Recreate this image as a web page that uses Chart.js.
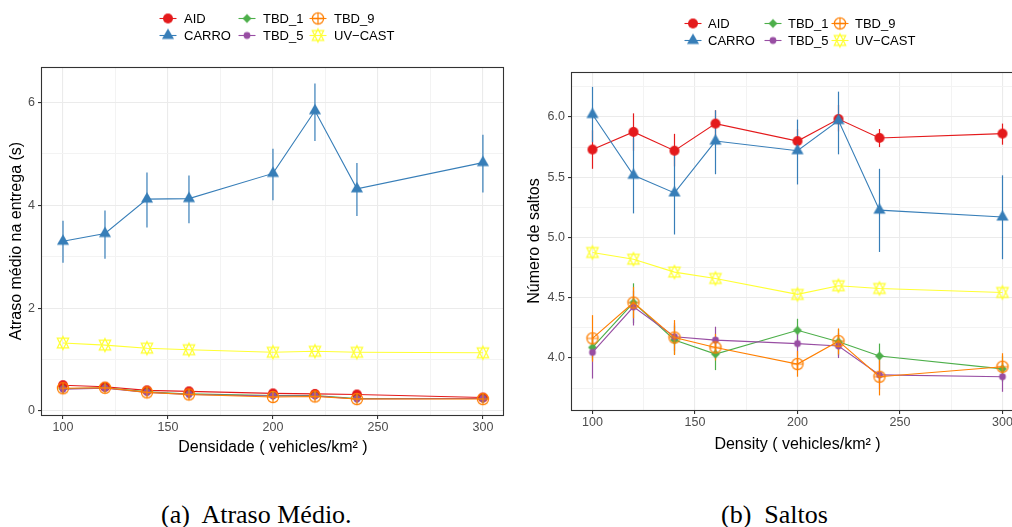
<!DOCTYPE html>
<html><head><meta charset="utf-8">
<script src="https://cdn.jsdelivr.net/npm/chart.js@4/dist/chart.umd.min.js"></script>
<style>
html,body{margin:0;padding:0;background:#fff;overflow:hidden;}
#wrap{position:relative;width:1012px;height:527px;overflow:hidden;background:#fff;}
canvas{position:absolute;top:0;}
.cap{position:absolute;font-family:'Liberation Serif','Times New Roman',serif;font-size:26px;line-height:26px;color:#000;white-space:pre;}
</style></head><body>
<div id="wrap">
<canvas id="c1" width="510" height="460" style="left:0px"></canvas>
<canvas id="c2" width="520" height="460" style="left:510px"></canvas>
<div class="cap" style="left:161px;top:502px">(a)  Atraso Médio.</div>
<div class="cap" style="left:721px;top:502px">(b)  Saltos</div>
</div>
<script>
// ---------------- DATA ----------------
const density = [100, 120, 140, 160, 200, 220, 240, 300];
const seriesNames = ['AID', 'CARRO', 'TBD_1', 'TBD_5', 'TBD_9', 'UV\u2212CAST'];

// (a) Atraso médio na entrega (s)
const delayAID   = [0.50, 0.47, 0.40, 0.38, 0.34, 0.33, 0.32, 0.26];
const delayCARRO = [3.30, 3.45, 4.12, 4.13, 4.62, 5.84, 4.32, 4.83];
const delayCARROLo = [2.88, 2.96, 3.57, 3.65, 4.10, 5.25, 3.79, 4.25];
const delayCARROHi = [3.70, 3.90, 4.64, 4.58, 5.10, 6.37, 4.82, 5.37];
const delayTBD1  = [0.43, 0.45, 0.37, 0.33, 0.30, 0.30, 0.24, 0.24];
const delayTBD5  = [0.42, 0.44, 0.36, 0.32, 0.29, 0.29, 0.23, 0.24];
const delayTBD9  = [0.44, 0.45, 0.36, 0.32, 0.27, 0.28, 0.23, 0.23];
const delayUV    = [1.32, 1.28, 1.22, 1.19, 1.14, 1.16, 1.14, 1.13];

// (b) Número de saltos
const hopsAID    = [5.73, 5.876, 5.72, 5.945, 5.80, 5.983, 5.826, 5.862];
const hopsAIDLo  = [5.57, 5.72, 5.59, 5.83, 5.70, 5.88, 5.75, 5.77];
const hopsAIDHi  = [5.89, 6.03, 5.86, 6.055, 5.90, 6.10, 5.90, 5.945];
const hopsCARRO  = [6.02, 5.516, 5.37, 5.80, 5.72, 5.97, 5.227, 5.17];
const hopsCARROLo = [5.79, 5.20, 5.025, 5.525, 5.44, 5.69, 4.88, 4.82];
const hopsCARROHi = [6.25, 5.83, 5.69, 6.055, 5.978, 6.21, 5.57, 5.516];
const hopsTBD1   = [4.088, 4.46, 4.15, 4.033, 4.23, 4.135, 4.017, 3.91];
const hopsTBD1Lo = [3.98, 4.29, 4.03, 3.90, 4.135, 4.02, 3.90, 3.80];
const hopsTBD1Hi = [4.20, 4.62, 4.27, 4.15, 4.326, 4.24, 4.12, 4.02];
const hopsTBD5   = [4.047, 4.425, 4.177, 4.149, 4.12, 4.10, 3.86, 3.845];
const hopsTBD5Lo = [3.83, 4.27, 4.06, 4.04, 4.01, 4.00, 3.74, 3.72];
const hopsTBD5Hi = [4.20, 4.56, 4.29, 4.26, 4.24, 4.21, 3.98, 3.96];
const hopsTBD9   = [4.163, 4.46, 4.17, 4.088, 3.95, 4.14, 3.845, 3.928];
const hopsTBD9Lo = [3.97, 4.33, 4.025, 3.98, 3.845, 4.03, 3.69, 3.82];
const hopsTBD9Hi = [4.356, 4.59, 4.315, 4.20, 4.06, 4.246, 4.00, 4.04];
const hopsUV     = [4.876, 4.82, 4.713, 4.66, 4.528, 4.60, 4.577, 4.544];

// ticks
const xTickValues = [100, 125, 150, 175, 200, 225, 250, 275, 300];
const xTickLabels = [100, 150, 200, 250, 300];
const delayYTickValues = [0, 1, 2, 3, 4, 5, 6];
const delayYTickLabels = [0, 2, 4, 6];
const hopsYTickValues = [3.75, 4, 4.25, 4.5, 4.75, 5, 5.25, 5.5, 5.75, 6, 6.25];
const hopsYTickLabels = [4, 4.5, 5, 5.5, 6];

// ---------------- STYLE ----------------
const FONT = "'Liberation Sans', Arial, Helvetica, sans-serif";
Chart.defaults.font.family = FONT;
const seriesColors = ['#E41A1C', '#377EB8', '#4DAF4A', '#984EA3', '#FF7F00', '#FFFF33'];
const seriesShapes = ['dot', 'tri', 'diamond', 'smalldot', 'circplus', 'hexagram'];

function makeSymbol(shape, color) {
  const S = 18, m = S / 2;
  const c = document.createElement('canvas');
  c.width = S; c.height = S;
  const g = c.getContext('2d');
  g.fillStyle = color; g.strokeStyle = color; g.lineWidth = 1.2;
  g.beginPath();
  if (shape === 'dot') { g.arc(m, m, 5, 0, Math.PI * 2); g.fill(); }
  else if (shape === 'smalldot') { g.arc(m, m, 3.4, 0, Math.PI * 2); g.fill(); }
  else if (shape === 'tri') {
    const r = 7;
    g.moveTo(m, m - r); g.lineTo(m + 0.866 * r, m + r / 2); g.lineTo(m - 0.866 * r, m + r / 2);
    g.closePath(); g.fill();
  } else if (shape === 'diamond') {
    const d = 4.4;
    g.moveTo(m, m - d); g.lineTo(m + d, m); g.lineTo(m, m + d); g.lineTo(m - d, m);
    g.closePath(); g.fill();
  } else if (shape === 'circplus') {
    const r = 5.6;
    g.arc(m, m, r, 0, Math.PI * 2); g.stroke();
    g.beginPath();
    g.moveTo(m - r, m); g.lineTo(m + r, m); g.moveTo(m, m - r); g.lineTo(m, m + r); g.stroke();
  } else if (shape === 'hexagram') {
    const a = 6.6, b = 0.75 * a, w = 0.866 * a;
    g.moveTo(m, m - a); g.lineTo(m + w, m + b); g.lineTo(m - w, m + b); g.closePath();
    g.moveTo(m, m + a); g.lineTo(m + w, m - b); g.lineTo(m - w, m - b); g.closePath();
    g.stroke();
  }
  return c;
}
const symbols = seriesShapes.map((s, i) => makeSymbol(s, seriesColors[i]));

// ---------------- PLUGINS ----------------
const errorBars = {
  id: 'errorBars',
  beforeDatasetsDraw(chart) {
    const ctx = chart.ctx, xs = chart.scales.x, ys = chart.scales.y, a = chart.chartArea;
    ctx.save();
    ctx.beginPath(); ctx.rect(a.left, a.top, a.right - a.left, a.bottom - a.top); ctx.clip();
    chart.data.datasets.forEach(ds => {
      if (!ds.errLo) return;
      ctx.strokeStyle = ds.borderColor; ctx.lineWidth = 1.2;
      ds.errLo.forEach((lo, i) => {
        const x = xs.getPixelForValue(density[i]);
        ctx.beginPath();
        ctx.moveTo(x, ys.getPixelForValue(lo));
        ctx.lineTo(x, ys.getPixelForValue(ds.errHi[i]));
        ctx.stroke();
      });
    });
    ctx.restore();
  }
};
const panelBorder = {
  id: 'panelBorder',
  afterDatasetsDraw(chart) {
    const a = chart.chartArea, ctx = chart.ctx;
    ctx.save();
    ctx.strokeStyle = '#333333'; ctx.lineWidth = 1.1;
    ctx.strokeRect(Math.round(a.left) - 0.5, Math.round(a.top) + 0.5, Math.round(a.right - a.left) + 0, Math.round(a.bottom - a.top));
    ctx.restore();
  }
};
const ggLegend = {
  id: 'ggLegend',
  afterDraw(chart, args, o) {
    const ctx = chart.ctx;
    ctx.save();
    ctx.font = '13px ' + FONT; ctx.textBaseline = 'middle'; ctx.fillStyle = '#000';
    chart.data.datasets.forEach((ds, i) => {
      const col = Math.floor(i / 2), row = i % 2;
      const cx = o.x0 + o.colX[col], cy = o.y0 + row * o.rowGap;
      ctx.strokeStyle = ds.borderColor; ctx.lineWidth = 1.1;
      ctx.beginPath(); ctx.moveTo(cx - 8.5, cy); ctx.lineTo(cx + 8.5, cy); ctx.stroke();
      const s = symbols[i];
      ctx.drawImage(s, cx - s.width / 2, cy - s.height / 2);
      ctx.fillText(ds.label, cx + o.textGap, cy + 0.5);
    });
    ctx.restore();
  }
};

// ---------------- CHARTS ----------------
function buildDatasets(values, los, his) {
  return values.map((vals, i) => ({
    label: seriesNames[i],
    data: vals.map((v, j) => ({ x: density[j], y: v })),
    errLo: los[i], errHi: his[i],
    borderColor: seriesColors[i], backgroundColor: seriesColors[i],
    borderWidth: 1.1, tension: 0, fill: false,
    pointStyle: symbols[i], pointRadius: 5, pointHoverRadius: 5,
    order: 5 - i
  }));
}

function makeChart(id, datasets, cfg) {
  const tickFont = { size: 12.5, family: FONT };
  const gridOpt = (majors) => ({
    color: c => majors.includes(c.tick.value) ? '#ebebeb' : '#f3f3f3',
    lineWidth: c => majors.includes(c.tick.value) ? 1.1 : 1,
    tickColor: c => majors.includes(c.tick.value) ? '#333333' : 'rgba(0,0,0,0)',
    tickLength: 4, drawTicks: true
  });
  return new Chart(document.getElementById(id), {
    type: 'line',
    data: { datasets },
    options: {
      responsive: false, animation: false, devicePixelRatio: 1,
      layout: { padding: cfg.padding },
      plugins: { legend: { display: false }, tooltip: { enabled: false }, ggLegend: cfg.legend },
      scales: {
        x: {
          type: 'linear', min: 90, max: 310,
          afterBuildTicks: s => { s.ticks = xTickValues.map(v => ({ value: v })); },
          afterFit: s => { s.height = cfg.xHeight; },
          ticks: { autoSkip: false, maxRotation: 0, padding: 1, color: '#4d4d4d', font: tickFont,
                   callback: v => xTickLabels.includes(v) ? String(v) : '' },
          grid: gridOpt(xTickLabels),
          border: { display: false },
          title: { display: true, text: cfg.xTitle, color: '#000', font: { size: 16, family: FONT },
                   padding: { top: 0, bottom: cfg.xTitlePad } }
        },
        y: {
          type: 'linear', min: cfg.yMin, max: cfg.yMax,
          afterBuildTicks: s => { s.ticks = cfg.yTicks.map(v => ({ value: v })); },
          afterFit: s => { s.width = cfg.yWidth; },
          ticks: { autoSkip: false, padding: 3, color: '#4d4d4d', font: tickFont,
                   callback: v => cfg.yLabels.includes(v) ? v.toFixed(cfg.yDec) : '' },
          grid: gridOpt(cfg.yLabels),
          border: { display: false },
          title: { display: true, text: cfg.yTitle, color: '#000', font: { size: 16, family: FONT },
                   padding: { top: cfg.yTitlePad, bottom: 0 } }
        }
      }
    },
    plugins: [errorBars, panelBorder, ggLegend]
  });
}

makeChart('c1',
  buildDatasets(
    [delayAID, delayCARRO, delayTBD1, delayTBD5, delayTBD9, delayUV],
    [null, delayCARROLo, null, null, null, null],
    [null, delayCARROHi, null, null, null, null]),
  {
    padding: { top: 67, right: 5, left: 0, bottom: 0 },
    xHeight: 45, yWidth: 42, xTitlePad: 2.4, yTitlePad: 7.4,
    yMin: -0.08, yMax: 6.69, yTicks: delayYTickValues, yLabels: delayYTickLabels, yDec: 0,
    xTitle: 'Densidade ( vehicles/km\u00B2 )', yTitle: 'Atraso médio na entrega (s)',
    legend: { x0: 168, y0: 18.5, colX: [0, 79, 150], rowGap: 17, textGap: 16 }
  });

makeChart('c2',
  buildDatasets(
    [hopsAID, hopsCARRO, hopsTBD1, hopsTBD5, hopsTBD9, hopsUV],
    [hopsAIDLo, hopsCARROLo, hopsTBD1Lo, hopsTBD5Lo, hopsTBD9Lo, null],
    [hopsAIDHi, hopsCARROHi, hopsTBD1Hi, hopsTBD5Hi, hopsTBD9Hi, null]),
  {
    padding: { top: 72, right: 7, left: 0, bottom: 0 },
    xHeight: 50, yWidth: 62, xTitlePad: 5.4, yTitlePad: 15.4,
    yMin: 3.569, yMax: 6.373, yTicks: hopsYTickValues, yLabels: hopsYTickLabels, yDec: 1,
    xTitle: 'Density ( vehicles/km\u00B2 )', yTitle: 'Número de saltos',
    legend: { x0: 183, y0: 23.5, colX: [0, 80, 147], rowGap: 17, textGap: 15 }
  });
</script>
</body></html>
